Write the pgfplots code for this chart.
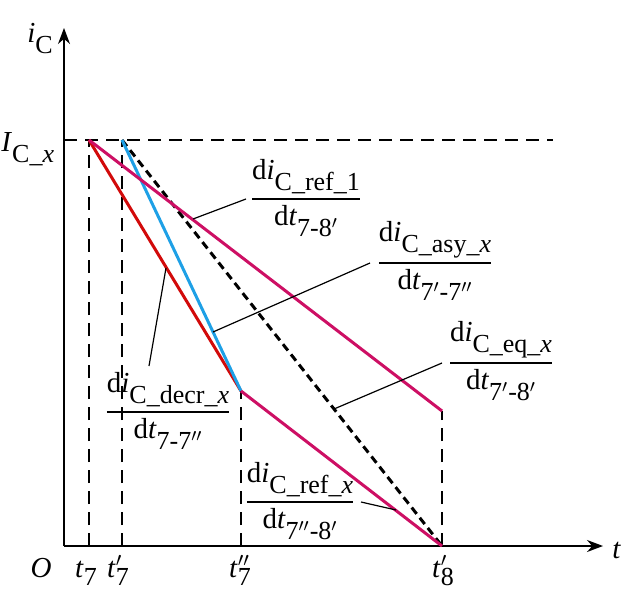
\documentclass[border=0pt]{standalone}
\usepackage{amsmath}
\usepackage{fontspec}
\setmainfont{Liberation Serif}
\usepackage{pgfplots}
\pgfplotsset{compat=1.18}
\usetikzlibrary{arrows.meta}

\definecolor{cred}{RGB}{210,10,10}
\definecolor{cblue}{RGB}{30,160,230}
\definecolor{cmag}{RGB}{205,15,100}

% lowered, nearly full-size subscripts as in the original figure
\newcommand{\sub}[1]{\raisebox{-5.5pt}{\fontsize{13}{15}\selectfont #1}}
\newcommand{\bsub}[1]{\raisebox{-4pt}{\fontsize{13}{15}\selectfont #1}}
\newcommand{\pr}{$^{\prime}$}
\newcommand{\ppr}{$^{\prime\prime}$}
\newcommand{\dfr}[3]{$\genfrac{}{}{0.7pt}{0}{\mbox{d\textit{#1}\sub{#2}}}{\mbox{d\textit{t}\sub{#3}}}$}

\begin{document}
\begin{tikzpicture}[every node/.style={font=\fontsize{14.5}{17}\selectfont, inner sep=0pt}]
  \begin{axis}[
    x=0.5pt, y=0.5pt,
    xmin=0, xmax=539, ymin=0, ymax=518,
    axis lines=left,
    axis line style={line width=0.75pt, -{Stealth[length=8pt,width=6pt]}},
    xtick=\empty, ytick=\empty,
    clip=false,
    ]
    % dashed guides
    \addplot[black, line width=0.75pt, dash pattern=on 6.5pt off 4pt] coordinates {(0,406) (489,406)};
    \addplot[black, line width=0.75pt, dash pattern=on 6.5pt off 4pt] coordinates {(25,0) (25,406)};
    \addplot[black, line width=0.75pt, dash pattern=on 6.5pt off 4pt] coordinates {(58,0) (58,406)};
    \addplot[black, line width=0.75pt, dash pattern=on 6.5pt off 4pt] coordinates {(177,0) (177,155)};
    \addplot[black, line width=0.75pt, dash pattern=on 6.5pt off 4pt] coordinates {(378,0) (378,135)};

    % current slopes
    \addplot[black, line width=1.5pt, dash pattern=on 4pt off 2.5pt] coordinates {(58,406) (378,0)};
    \addplot[cred, line width=1.5pt] coordinates {(25,406) (177,155)};
    \addplot[cblue, line width=1.5pt] coordinates {(58,406) (177,155)};
    \addplot[cmag, line width=1.5pt] coordinates {(177,155) (378,0)};
    \addplot[cmag, line width=1.5pt] coordinates {(25,406) (378,135)};

    % leader lines
    \addplot[black, line width=0.6pt] coordinates {(129,327) (182,347)};
    \addplot[black, line width=0.6pt] coordinates {(149,214) (306,283)};
    \addplot[black, line width=0.6pt] coordinates {(270,137) (378,183)};
    \addplot[black, line width=0.6pt] coordinates {(102,278) (85,180)};
    \addplot[black, line width=0.6pt] coordinates {(297,44) (332,36)};

    % slope labels
    \node[anchor=base, yshift=-3.6pt] at (axis cs:242,347) {\dfr{i}{C\_ref\_1}{7-8\pr}};
    \node[anchor=base, yshift=-3.6pt] at (axis cs:371,283) {\dfr{i}{C\_asy\_\textit{x}}{7\pr-7\ppr}};
    \node[anchor=base, yshift=-3.6pt] at (axis cs:437,183) {\dfr{i}{C\_eq\_\textit{x}}{7\pr-8\pr}};
    \node[anchor=base, yshift=-3.6pt] at (axis cs:104,134) {\dfr{i}{C\_decr\_\textit{x}}{7-7\ppr}};
    \node[anchor=base, yshift=-3.6pt] at (axis cs:236,44) {\dfr{i}{C\_ref\_\textit{x}}{7\ppr-8\pr}};

    % axis labels
    \node[anchor=base west] at (axis cs:-37,503) {\textit{i}\sub{C}};
    \node[anchor=base west] at (axis cs:-63,394) {\textit{I}\sub{C\_\textit{x}}};
    \node[anchor=west] at (axis cs:548,-4) {\textit{t}};
    \node[anchor=base] at (axis cs:-23,-31) {\textit{O}};
    \node[anchor=base] at (axis cs:22,-31) {\textit{t}\bsub{7}};
    \node[anchor=base] at (axis cs:54,-31) {\textit{t}\rlap{\pr}\bsub{7}};
    \node[anchor=base] at (axis cs:176,-31) {\textit{t}\rlap{\ppr}\bsub{7}};
    \node[anchor=base] at (axis cs:379,-31) {\textit{t}\rlap{\pr}\bsub{8}};

    \coordinate (bl) at (axis cs:-64,-48);
    \coordinate (tr) at (axis cs:560,546);
  \end{axis}
  \pgfresetboundingbox
  \useasboundingbox (bl) rectangle (tr);
\end{tikzpicture}
\end{document}
